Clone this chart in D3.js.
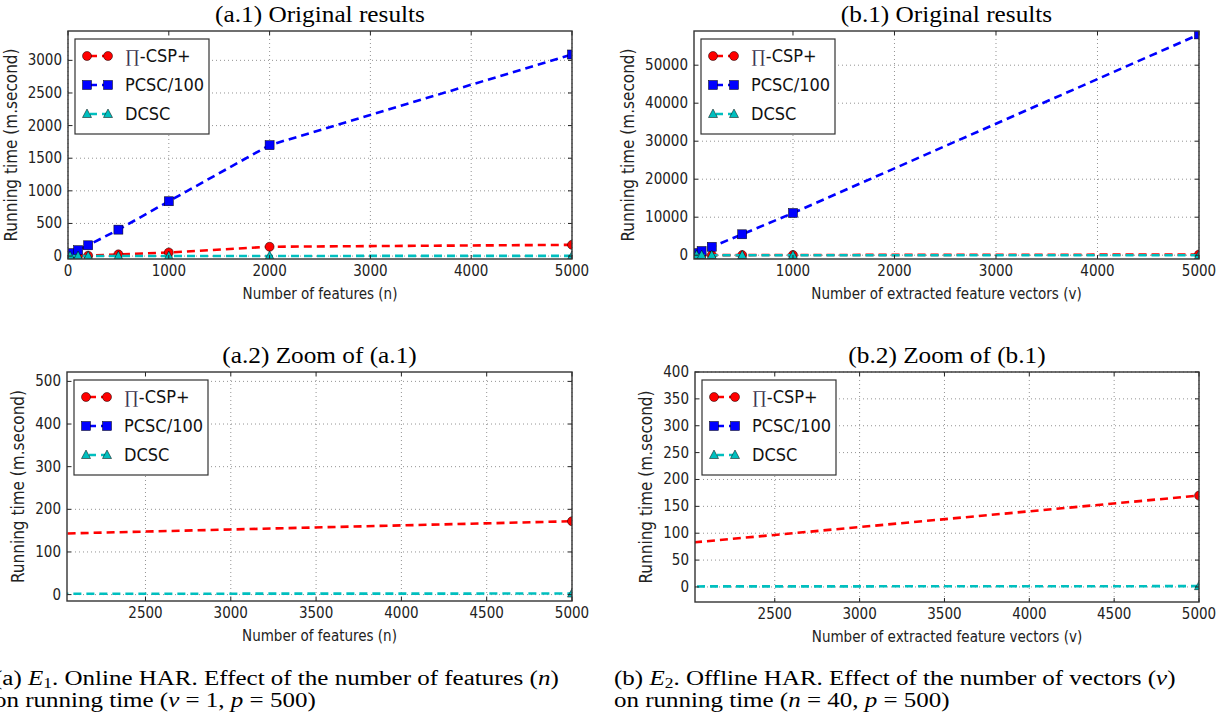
<!DOCTYPE html>
<html>
<head>
<meta charset="utf-8">
<script src="https://cdn.jsdelivr.net/npm/d3@7"></script>
<style>
body { margin: 0; background: #fff; }
</style>
</head>
<body>
<div id="container"></div>
<script>
/* DATA */
// (a) online HAR, x = number of features (n)
const nA = [20, 100, 200, 500, 1000, 2000, 5000];
const piCspA = [1, 3, 6, 26, 55, 143, 172];
const pcscA = [45, 90, 165, 405, 840, 1700, 3090];
const dcscA = [0.1, 0.3, 0.5, 0.9, 1.4, 2.0, 2.5];

// (b) offline HAR, x = number of extracted feature vectors (v)
const vB = [50, 100, 200, 500, 1000, 5000];
const piCspB = [3, 5, 11, 27, 53, 170];
const pcscB = [550, 1100, 2200, 5500, 11100, 58100];
const dcscB = [0.2, 0.3, 0.4, 0.6, 0.8, 1.5];

const seriesNames = ["\u220F-CSP+", "PCSC/100", "DCSC"];

const xTicksA1 = [0, 1000, 2000, 3000, 4000, 5000];
const yTicksA1 = [0, 500, 1000, 1500, 2000, 2500, 3000];
const xTicksB1 = [1000, 2000, 3000, 4000, 5000];
const yTicksB1 = [0, 10000, 20000, 30000, 40000, 50000];
const xTicksZoom = [2500, 3000, 3500, 4000, 4500, 5000];
const yTicksA2 = [0, 100, 200, 300, 400, 500];
const yTicksB2 = [0, 50, 100, 150, 200, 250, 300, 350, 400];

/* CONSTANTS */
const width = 1228, height = 720;
const colors = ["#ff0000", "#0000ff", "#00bfbf"];
const shapes = ["circle", "square", "triangle"];
const tickFont = "'DejaVu Sans Condensed', 'DejaVu Sans', sans-serif";
const serifFont = "'Liberation Serif', 'DejaVu Serif', serif";

const panels = [
  { title: "(a.1) Original results", px: [68, 572], py: [31, 259],
    xDom: [0, 5000], yDom: [-45, 3450], xTicks: xTicksA1, yTicks: yTicksA1,
    xLabel: "Number of features (n)", xs: nA, ys: [piCspA, pcscA, dcscA] },
  { title: "(b.1) Original results", px: [694, 1199], py: [31, 259],
    xDom: [25, 5000], yDom: [-1000, 59000], xTicks: xTicksB1, yTicks: yTicksB1,
    xLabel: "Number of extracted feature vectors (v)", xs: vB, ys: [piCspB, pcscB, dcscB] },
  { title: "(a.2) Zoom of (a.1)", px: [67, 572], py: [372, 601],
    xDom: [2040, 5000], yDom: [-15, 522], xTicks: xTicksZoom, yTicks: yTicksA2,
    xLabel: "Number of features (n)", xs: nA, ys: [piCspA, pcscA, dcscA] },
  { title: "(b.2) Zoom of (b.1)", px: [695, 1199], py: [372, 602],
    xDom: [2030, 5000], yDom: [-28, 400], xTicks: xTicksZoom, yTicks: yTicksB2,
    xLabel: "Number of extracted feature vectors (v)", xs: vB, ys: [piCspB, pcscB, dcscB] }
];

/* SVG */
const svg = d3.select("#container")
  .append("svg")
  .attr("width", width)
  .attr("height", height)
  .style("display", "block");

// marker drawer
function drawMarker(g, shape, color, x, y) {
  if (shape === "circle") {
    g.append("circle").attr("cx", x).attr("cy", y).attr("r", 4.5)
      .attr("fill", color).attr("stroke", "#000").attr("stroke-width", 0.5);
  } else if (shape === "square") {
    g.append("rect").attr("x", x - 4.5).attr("y", y - 4.5).attr("width", 9).attr("height", 9)
      .attr("fill", color).attr("stroke", "#000").attr("stroke-width", 0.5);
  } else {
    g.append("path").attr("d", `M${x},${y - 5}L${x + 4.5},${y + 3.5}L${x - 4.5},${y + 3.5}Z`)
      .attr("fill", color).attr("stroke", "#000").attr("stroke-width", 0.5);
  }
}

panels.forEach((p, i) => {
  const xScale = d3.scaleLinear().domain(p.xDom).range(p.px);
  const yScale = d3.scaleLinear().domain(p.yDom).range([p.py[1], p.py[0]]);
  const g = svg.append("g");
  const w = p.px[1] - p.px[0], h = p.py[1] - p.py[0];

  // clip
  g.append("clipPath").attr("id", "clip" + i)
    .append("rect").attr("x", p.px[0]).attr("y", p.py[0]).attr("width", w).attr("height", h);

  // grid
  g.append("g").selectAll("line").data(p.xTicks).join("line")
    .attr("x1", d => xScale(d)).attr("x2", d => xScale(d))
    .attr("y1", p.py[0]).attr("y2", p.py[1])
    .attr("stroke", "#777").attr("stroke-width", 0.8).attr("stroke-dasharray", "1,3");
  g.append("g").selectAll("line").data(p.yTicks).join("line")
    .attr("x1", p.px[0]).attr("x2", p.px[1])
    .attr("y1", d => yScale(d)).attr("y2", d => yScale(d))
    .attr("stroke", "#777").attr("stroke-width", 0.8).attr("stroke-dasharray", "1,3");

  // series
  const plot = g.append("g").attr("clip-path", `url(#clip${i})`);
  const lineGen = d3.line().x(d => xScale(d[0])).y(d => yScale(d[1]));
  p.ys.forEach((vals, k) => {
    const pts = p.xs.map((x, j) => [x, vals[j]]);
    plot.append("path")
      .datum(pts)
      .attr("d", lineGen)
      .attr("fill", "none")
      .attr("stroke", colors[k])
      .attr("stroke-width", 2.6)
      .attr("stroke-dasharray", "8,5");
    pts.forEach(d => drawMarker(plot, shapes[k], colors[k], xScale(d[0]), yScale(d[1])));
  });

  // ticks (inward, all four sides)
  const tk = g.append("g").attr("stroke", "#222").attr("stroke-width", 1);
  p.xTicks.forEach(t => {
    const x = xScale(t);
    tk.append("line").attr("x1", x).attr("x2", x).attr("y1", p.py[1]).attr("y2", p.py[1] - 4);
    tk.append("line").attr("x1", x).attr("x2", x).attr("y1", p.py[0]).attr("y2", p.py[0] + 4);
  });
  p.yTicks.forEach(t => {
    const y = yScale(t);
    tk.append("line").attr("x1", p.px[0]).attr("x2", p.px[0] + 4).attr("y1", y).attr("y2", y);
    tk.append("line").attr("x1", p.px[1]).attr("x2", p.px[1] - 4).attr("y1", y).attr("y2", y);
  });

  // frame
  g.append("rect").attr("x", p.px[0]).attr("y", p.py[0]).attr("width", w).attr("height", h)
    .attr("fill", "none").attr("stroke", "#333").attr("stroke-width", 1.4);

  // tick labels
  g.append("g").selectAll("text").data(p.xTicks).join("text")
    .attr("x", d => xScale(d)).attr("y", p.py[1] + 17)
    .attr("text-anchor", "middle")
    .style("font-family", tickFont).style("font-size", "15px").attr("fill", "#222")
    .text(d => d);
  const yl = g.append("g").selectAll("text").data(p.yTicks).join("text")
    .attr("x", p.px[0] - 6).attr("y", d => yScale(d) + 5)
    .attr("text-anchor", "end")
    .style("font-family", tickFont).style("font-size", "15px").attr("fill", "#222")
    .text(d => d);
  let maxW = 0;
  yl.each(function () { maxW = Math.max(maxW, this.getBBox().width); });

  // axis labels
  g.append("text")
    .attr("x", (p.px[0] + p.px[1]) / 2).attr("y", p.py[1] + 40)
    .attr("text-anchor", "middle")
    .style("font-family", tickFont).style("font-size", "15px").attr("fill", "#222")
    .text(p.xLabel);
  const ylx = p.px[0] - maxW - 17;
  g.append("text")
    .attr("transform", `translate(${ylx},${(p.py[0] + p.py[1]) / 2}) rotate(-90)`)
    .attr("text-anchor", "middle")
    .style("font-family", tickFont).style("font-size", "17px").attr("fill", "#222")
    .text("Running time (m.second)");

  // title
  const cx = (p.px[0] + p.px[1]) / 2;
  g.append("text")
    .attr("transform", `translate(${cx},${p.py[0] - 9}) scale(1.1,1)`)
    .attr("text-anchor", "middle")
    .style("font-family", serifFont).style("font-size", "23px").attr("fill", "#000")
    .text(p.title);

  // legend
  const lx = p.px[0] + 7, ly = p.py[0] + 8;
  const lg = g.append("g");
  lg.append("rect").attr("x", lx).attr("y", ly).attr("width", 134).attr("height", 95)
    .attr("fill", "#fff").attr("stroke", "#333").attr("stroke-width", 1.2);
  seriesNames.forEach((name, k) => {
    const yy = ly + 17 + k * 29;
    lg.append("line").attr("x1", lx + 12).attr("x2", lx + 33).attr("y1", yy).attr("y2", yy)
      .attr("stroke", colors[k]).attr("stroke-width", 2.6).attr("stroke-dasharray", "7,5")
      .attr("stroke-dashoffset", -3);
    drawMarker(lg, shapes[k], colors[k], lx + 12, yy);
    drawMarker(lg, shapes[k], colors[k], lx + 33, yy);
    const t = lg.append("text").attr("x", lx + 50).attr("y", yy + 6)
      .style("font-family", tickFont).style("font-size", "18px").attr("fill", "#111");
    if (k === 0) {
      t.append("tspan").style("font-family", serifFont).attr("fill", "#3d3550").text(name[0]);
      t.append("tspan").text(name.slice(1));
    } else {
      t.text(name);
    }
  });
});

/* CAPTIONS */
function caption(x, letter, sub, rest1, varName, line2a, eq) {
  const cg = svg.append("g").attr("transform", `translate(${x},0) scale(1.25,1)`)
    .style("font-family", serifFont).style("font-size", "20px").attr("fill", "#000");
  const t1 = cg.append("text").attr("x", 0).attr("y", 685);
  t1.append("tspan").text(`(${letter}) `);
  t1.append("tspan").style("font-style", "italic").text("E");
  t1.append("tspan").attr("dy", 3).style("font-size", "14px").text(sub);
  t1.append("tspan").attr("dy", -3).text(rest1 + " (");
  t1.append("tspan").style("font-style", "italic").text(varName);
  t1.append("tspan").text(")");
  const t2 = cg.append("text").attr("x", 0).attr("y", 707);
  t2.append("tspan").text(line2a + " (");
  eq.forEach((part, j) => {
    t2.append("tspan").style("font-style", "italic").text(part[0]);
    t2.append("tspan").text(` = ${part[1]}` + (j < eq.length - 1 ? ", " : ""));
  });
  t2.append("tspan").text(")");
}
caption(-6, "a", "1", ". Online HAR. Effect of the number of features", "n",
  "on running time", [["v", 1], ["p", 500]]);
caption(614, "b", "2", ". Offline HAR. Effect of the number of vectors", "v",
  "on running time", [["n", 40], ["p", 500]]);
</script>
</body>
</html>
